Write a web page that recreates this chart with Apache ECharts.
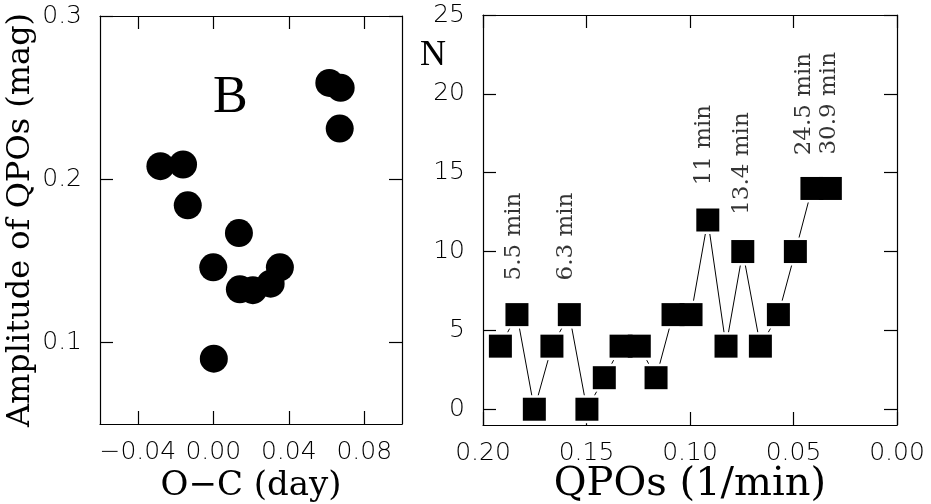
<!DOCTYPE html>
<html>
<head>
<meta charset="utf-8">
<script src="https://cdn.jsdelivr.net/npm/echarts@6.0.0/dist/echarts.min.js"></script>
<style>
html,body{margin:0;padding:0;background:#fff;}
#chart{width:931px;height:504px;}
</style>
</head>
<body>
<div id="chart"></div>
<script>
// ---- Left panel: amplitude of QPOs vs O-C ----
const leftOC  = [-0.028, -0.016, -0.0135, 0.0136, 0.0000, 0.0141, 0.0210, 0.0304, 0.0353, 0.0003, 0.0615, 0.0675, 0.0670];
const leftAmp = [ 0.208,  0.209,  0.184,  0.167,  0.146,  0.1325, 0.132,  0.136,  0.146,  0.090,  0.259,  0.256,  0.231];
const leftXTicks = [-0.04, 0.00, 0.04, 0.08];
const leftYTicks = [0.1, 0.2, 0.3];

// ---- Right panel: number of QPOs vs frequency ----
const qpoFreq = [0.1916, 0.1836, 0.1752, 0.1667, 0.1583, 0.1498, 0.1414, 0.1333, 0.1245, 0.1164,
                 0.1082, 0.0995, 0.0914, 0.0826, 0.0745, 0.0660, 0.0573, 0.0491, 0.0411, 0.0322];
const qpoN    = [4, 6, 0, 4, 6, 0, 2, 4, 4, 2, 6, 6, 12, 4, 10, 4, 6, 10, 14, 14];
const peakLabels = ['5.5 min', '6.3 min', '11 min', '13.4 min', '24.5 min', '30.9 min'];
const peakFreq   = [0.1849, 0.1597, 0.0932, 0.0747, 0.0448, 0.0327];
const peakN      = [10.95, 10.95, 16.75, 15.58, 19.35, 19.4];
const rightXTicks = [0.20, 0.15, 0.10, 0.05, 0.00];
const rightYTicks = [0, 5, 10, 15, 20, 25];

const tickFont = {fontFamily: 'DejaVu Sans', fontWeight: 200, fontSize: 25, color: '#000'};
const axisLineStyle = {color: '#000', width: 1.2};

function fmt2(v){ const s = Math.abs(v).toFixed(2); return (v < -1e-9 ? '\u2212' : '') + s; }

function axis(opts){
  return Object.assign({
    type: 'value',
    scale: true,
    nameMoveOverlap: false,
    axisLine: {show: true, onZero: false, lineStyle: axisLineStyle},
    axisTick: {show: true, inside: true, length: 13, lineStyle: axisLineStyle, customValues: opts.ticks},
    axisLabel: opts.labels ? Object.assign({show: true, customValues: opts.ticks, margin: opts.margin, formatter: opts.fmt}, tickFont) : {show: false},
    splitLine: {show: false}
  }, opts.extra || {});
}

const chart = echarts.init(document.getElementById('chart'), null, {renderer: 'canvas'});

const option = {
  animation: false,
  backgroundColor: '#fff',
  grid: [
    {left: 100, top: 16, width: 302, height: 408, containLabel: false, outerBoundsMode: 'none'},
    {left: 483, top: 15, width: 414, height: 410, containLabel: false, outerBoundsMode: 'none'}
  ],
  xAxis: [
    axis({ticks: leftXTicks, labels: true, margin: 16, fmt: fmt2, extra: {
      gridIndex: 0, position: 'bottom', min: -0.06, max: 0.10,
      name: 'O\u2212C (day)', nameLocation: 'middle', nameGap: 45,
      nameTextStyle: {fontFamily: 'DejaVu Serif', fontSize: 34, color: '#000'}
    }}),
    axis({ticks: leftXTicks, labels: false, extra: {gridIndex: 0, position: 'top', min: -0.06, max: 0.10}}),
    axis({ticks: rightXTicks, labels: true, margin: 16, fmt: v => v.toFixed(2), extra: {
      gridIndex: 1, position: 'bottom', min: 0, max: 0.2, inverse: true,
      name: 'QPOs (1/min)', nameLocation: 'middle', nameGap: 40,
      nameTextStyle: {fontFamily: 'DejaVu Serif', fontSize: 40, color: '#000'}
    }}),
    axis({ticks: rightXTicks, labels: false, extra: {gridIndex: 1, position: 'top', min: 0, max: 0.2, inverse: true}})
  ],
  yAxis: [
    axis({ticks: leftYTicks, labels: true, margin: 18, fmt: v => v.toFixed(1), extra: {
      gridIndex: 0, position: 'left', min: 0.05, max: 0.3,
      name: 'Amplitude of QPOs (mag)', nameLocation: 'middle', nameGap: 63, nameRotate: 90,
      nameTextStyle: {fontFamily: 'DejaVu Serif', fontSize: 32, color: '#000'}
    }}),
    axis({ticks: leftYTicks, labels: false, extra: {gridIndex: 0, position: 'right', min: 0.05, max: 0.3}}),
    axis({ticks: rightYTicks, labels: true, margin: 18, fmt: v => String(v), extra: {
      gridIndex: 1, position: 'left', min: -1, max: 25
    }}),
    axis({ticks: rightYTicks, labels: false, extra: {gridIndex: 1, position: 'right', min: -1, max: 25}})
  ],
  graphic: [
    {type: 'text', left: 213, top: 72, z: 10,
     style: {text: 'B', font: '52px "Liberation Serif"', fill: '#000'}},
    {type: 'text', left: 420, top: 38, z: 10,
     style: {text: 'N', font: '36px "Liberation Serif"', fill: '#000'}}
  ],
  series: [
    {
      type: 'scatter', xAxisIndex: 0, yAxisIndex: 0,
      symbol: 'circle', symbolSize: 28,
      itemStyle: {color: '#000', opacity: 1},
      emphasis: {disabled: true},
      data: leftOC.map((x, i) => [x, leftAmp[i]])
    },
    {
      type: 'line', xAxisIndex: 2, yAxisIndex: 2, z: 1,
      symbol: 'none', lineStyle: {color: '#000', width: 1},
      emphasis: {disabled: true},
      data: qpoFreq.map((x, i) => [x, qpoN[i]])
    },
    {
      type: 'scatter', xAxisIndex: 2, yAxisIndex: 2, z: 2,
      symbol: 'rect', symbolSize: 28,
      itemStyle: {color: '#fff', opacity: 1},
      emphasis: {disabled: true},
      data: qpoFreq.map((x, i) => [x, qpoN[i]])
    },
    {
      type: 'scatter', xAxisIndex: 2, yAxisIndex: 2, z: 3,
      symbol: 'rect', symbolSize: 23,
      itemStyle: {color: '#000', opacity: 1},
      emphasis: {disabled: true},
      data: qpoFreq.map((x, i) => [x, qpoN[i]])
    },
    {
      type: 'scatter', xAxisIndex: 2, yAxisIndex: 2, z: 4,
      symbolSize: 1,
      itemStyle: {color: 'rgba(0,0,0,0)'},
      emphasis: {disabled: true},
      label: {
        show: true, position: 'inside', rotate: 90,
        fontFamily: 'DejaVu Serif', fontSize: 23, color: '#000',
        formatter: p => p.data[2]
      },
      data: peakFreq.map((x, i) => [x, peakN[i], peakLabels[i]])
    }
  ]
};
chart.setOption(option);
</script>
</body>
</html>
